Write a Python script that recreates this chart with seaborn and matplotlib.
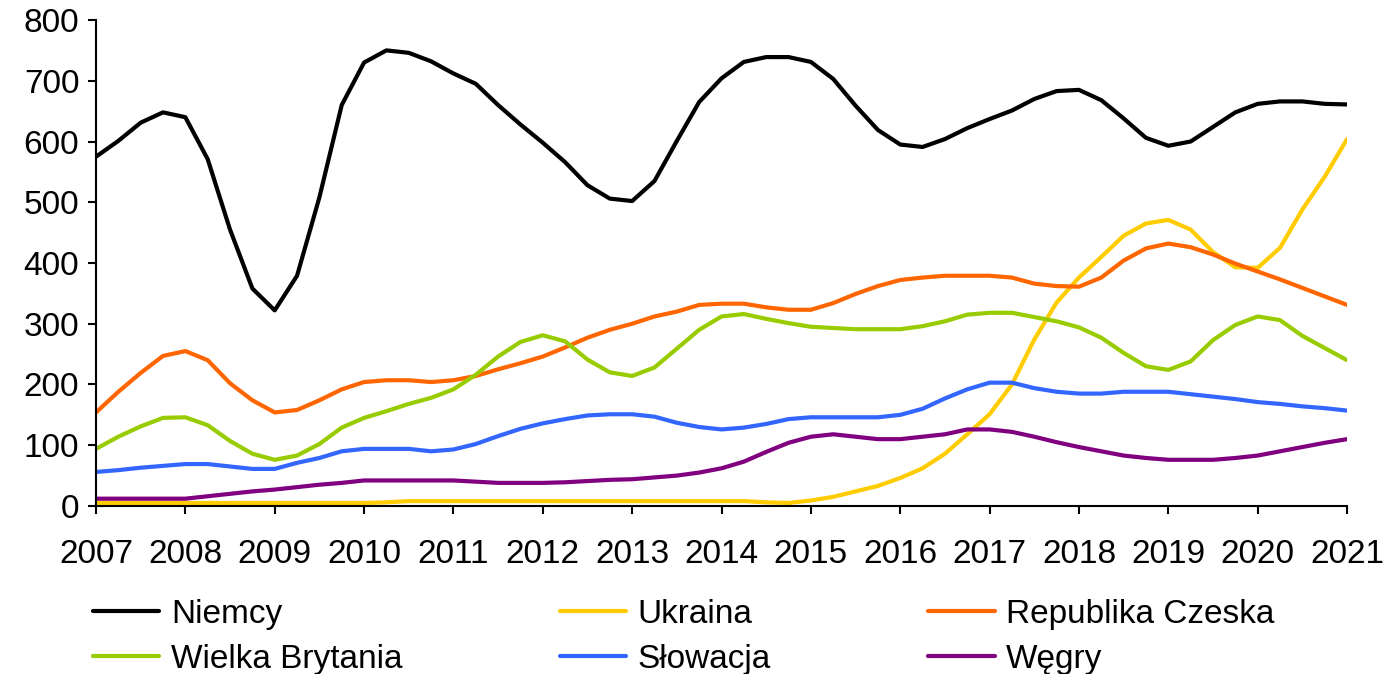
import matplotlib
matplotlib.use("Agg")
import matplotlib.pyplot as plt
import numpy as np
import pandas as pd
import seaborn as sns
from matplotlib.lines import Line2D

# quarterly points, 2007.00 .. 2021.00
quarters = np.arange(2007, 2021.01, 0.25)

niemcy = [575, 601, 631, 648, 640, 571, 455, 358, 322, 379, 508, 660, 730, 750, 746, 732,
          712, 695, 660, 628, 598, 566, 528, 506, 502, 535, 601, 665, 704, 731, 739, 739,
          731, 703, 659, 619, 595, 591, 604, 622, 637, 651, 670, 683, 685, 668, 638, 606,
          593, 600, 624, 648, 662, 666, 666, 662, 661]
ukraina = [5, 5, 5, 5, 5, 5, 5, 5, 5, 5, 5, 5, 5, 6, 8, 8,
           8, 8, 8, 8, 8, 8, 8, 8, 8, 8, 8, 8, 8, 8, 6, 5,
           9, 15, 24, 33, 46, 62, 86, 118, 151, 200, 274, 335, 376, 410, 445, 465,
           471, 455, 418, 393, 392, 425, 488, 542, 604]
czechy = [154, 188, 219, 247, 255, 240, 202, 174, 154, 158, 174, 192, 204, 207, 207, 204,
          207, 214, 225, 235, 246, 261, 277, 290, 300, 312, 320, 331, 333, 333, 327, 323,
          323, 334, 349, 362, 372, 376, 379, 379, 379, 376, 366, 362, 361, 376, 404, 424,
          432, 426, 414, 399, 386, 373, 359, 345, 331]
brytania = [94, 114, 131, 145, 146, 133, 107, 86, 76, 83, 102, 129, 145, 156, 168, 178,
            192, 216, 246, 270, 281, 271, 241, 220, 214, 228, 259, 290, 312, 316, 308, 301,
            295, 293, 291, 291, 291, 296, 304, 315, 318, 318, 311, 304, 294, 277, 252, 230,
            224, 238, 273, 298, 312, 306, 280, 260, 240]
slowacja = [56, 59, 63, 66, 69, 69, 65, 61, 61, 71, 79, 90, 94, 94, 94, 90,
            93, 102, 115, 127, 136, 143, 149, 151, 151, 147, 137, 130, 126, 129, 135, 143,
            146, 146, 146, 146, 150, 160, 177, 192, 203, 203, 194, 188, 185, 185, 188, 188,
            188, 184, 180, 176, 171, 168, 164, 161, 157]
wegry = [12, 12, 12, 12, 12, 16, 20, 24, 27, 31, 35, 38, 42, 42, 42, 42,
         42, 40, 38, 38, 38, 39, 41, 43, 44, 47, 50, 55, 62, 73, 89, 104,
         114, 118, 114, 110, 110, 114, 118, 126, 126, 122, 114, 105, 97, 90, 83, 79,
         76, 76, 76, 79, 83, 90, 97, 104, 110]

series = {
    "Niemcy": niemcy,
    "Ukraina": ukraina,
    "Republika Czeska": czechy,
    "Wielka Brytania": brytania,
    "Słowacja": slowacja,
    "Węgry": wegry,
}
colors = {
    "Niemcy": "#000000",
    "Ukraina": "#FFCC00",
    "Republika Czeska": "#FF6600",
    "Wielka Brytania": "#99CC00",
    "Słowacja": "#3366FF",
    "Węgry": "#800080",
}
years = list(range(2007, 2022))

frames = [pd.DataFrame({"t": quarters, "value": vals, "country": name})
          for name, vals in series.items()]
df = pd.concat(frames, ignore_index=True)

sns.set_theme(style="ticks")
plt.rcParams["font.family"] = ["Liberation Sans", "DejaVu Sans"]
plt.rcParams["text.color"] = "black"
plt.rcParams["lines.solid_joinstyle"] = "round"

fig = plt.figure(figsize=(13.85, 6.74), dpi=100)
ax = fig.add_axes([0.0693, 0.2493, 0.9033, 0.721])

sns.lineplot(data=df, x="t", y="value", hue="country", palette=colors,
             hue_order=list(series.keys()), linewidth=3, legend=False, ax=ax)

ax.set_xlim(2007, 2021)
ax.set_ylim(0, 800)
ax.set_xticks(years)
ax.set_xticklabels([str(y) for y in years])
ax.set_yticks(range(0, 801, 100))
ax.set_xlabel("")
ax.set_ylabel("")
for side in ["top", "right"]:
    ax.spines[side].set_visible(False)
for side in ["left", "bottom"]:
    ax.spines[side].set_linewidth(1.5)
    ax.spines[side].set_color("black")
ax.tick_params(axis="both", colors="black", labelsize=24, width=1.5, length=6,
               direction="out")
ax.tick_params(axis="x", pad=18)
ax.tick_params(axis="y", pad=6)

# legend: three columns of two entries, like the original layout
columns = [["Niemcy", "Wielka Brytania"], ["Ukraina", "Słowacja"],
           ["Republika Czeska", "Węgry"]]
col_x = [0.067, 0.404, 0.670]
for names, x in zip(columns, col_x):
    handles = [Line2D([], [], color=colors[n], linewidth=3) for n in names]
    leg = fig.legend(handles, names, loc="upper left", bbox_to_anchor=(x, 0.112),
                     frameon=False, fontsize=24, handlelength=2.0, handletextpad=0.35,
                     labelspacing=0.42, borderpad=0, borderaxespad=0)
    for txt in leg.get_texts():
        txt.set_color("black")

fig.savefig("out.png", dpi=100)
